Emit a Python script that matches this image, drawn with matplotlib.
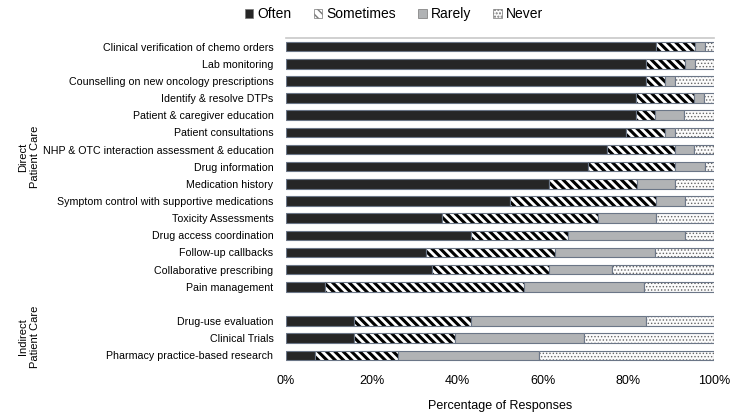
import matplotlib
matplotlib.use("Agg")
import matplotlib.pyplot as plt
import numpy as np

plt.rcParams['font.family'] = ['Liberation Sans', 'DejaVu Sans']

direct_labels = [
    "Clinical verification of chemo orders",
    "Lab monitoring",
    "Counselling on new oncology prescriptions",
    "Identify & resolve DTPs",
    "Patient & caregiver education",
    "Patient consultations",
    "NHP & OTC interaction assessment & education",
    "Drug information",
    "Medication history",
    "Symptom control with supportive medications",
    "Toxicity Assessments",
    "Drug access coordination",
    "Follow-up callbacks",
    "Collaborative prescribing",
    "Pain management",
]
indirect_labels = [
    "Drug-use evaluation",
    "Clinical Trials",
    "Pharmacy practice-based research",
]

often = [86.4, 84.1, 84.1, 81.8, 81.8, 79.5, 75.0, 70.5, 61.4, 52.3, 36.4, 43.2, 32.6, 34.1, 9.1,
         15.9, 15.9, 6.8]
sometimes = [9.1, 9.1, 4.5, 13.6, 4.5, 9.1, 15.9, 20.5, 20.5, 34.1, 36.4, 22.7, 30.2, 27.3, 46.6,
             27.3, 23.5, 19.3]
rarely = [2.3, 2.3, 2.3, 2.3, 6.8, 2.3, 4.5, 6.8, 9.1, 6.8, 13.6, 27.3, 23.3, 14.8, 28.0,
          40.9, 30.3, 33.0]
never = [2.3, 4.5, 9.1, 2.3, 6.8, 9.1, 4.5, 2.3, 9.0, 6.8, 13.6, 6.8, 14.0, 23.8, 16.3,
         15.9, 30.3, 40.9]

categories = ["Often", "Sometimes", "Rarely", "Never"]
group_names = ["Direct\nPatient Care", "Indirect\nPatient Care"]

labels = direct_labels + indirect_labels
ypos = list(range(len(direct_labels))) + [len(direct_labels) + 1 + i for i in range(len(indirect_labels))]

fig = plt.figure(figsize=(7.36, 4.17), dpi=100)
ax = fig.add_axes([286/736, 1 - 364/417, 428/736, (364 - 38)/417])

series = [often, sometimes, rarely, never]
styles = [
    dict(color="#262626", hatch=None, hc=None, hlw=1.0),
    dict(color="white", hatch="\\\\\\\\", hc="black", hlw=2.2),
    dict(color="#b1b3b5", hatch=None, hc=None, hlw=1.0),
    dict(color="#fbfbfb", hatch=".....", hc="#666666", hlw=0.6),
]
edge = "#6b7687"
left = np.zeros(len(labels))
handles = []
for name, vals, st in zip(categories, series, styles):
    vals = np.array(vals)
    if st["hatch"] is not None:
        with plt.rc_context({'hatch.linewidth': st["hlw"]}):
            b = ax.barh(ypos, vals, left=left, height=0.56, color=st["color"], hatch=st["hatch"],
                        edgecolor=st["hc"], linewidth=0, label=name)
        ax.barh(ypos, vals, left=left, height=0.56, color="none", edgecolor=edge, linewidth=0.8)
    else:
        b = ax.barh(ypos, vals, left=left, height=0.56, color=st["color"],
                    edgecolor=edge, linewidth=0.8, label=name)
    handles.append(b)
    left += vals

ax.set_xlim(0, 100)
ax.set_ylim(max(ypos) + 0.5, -0.5)
ax.set_yticks(ypos)
ax.set_yticklabels(labels, fontsize=7.7)
ax.set_xticks([0, 20, 40, 60, 80, 100])
ax.set_xticklabels(["0%", "20%", "40%", "60%", "80%", "100%"], fontsize=9)
ax.tick_params(axis='x', length=0, pad=8)
ax.tick_params(axis='y', length=0, pad=9)
for s in ["left", "right", "bottom"]:
    ax.spines[s].set_visible(False)
ax.spines["top"].set_color("#c8c8c8")
ax.spines["top"].set_linewidth(1.2)
ax.set_xlabel("Percentage of Responses", fontsize=9, labelpad=9)

# group labels
fig.text(29/736, 1 - 157/417, group_names[0], rotation=90, ha="center", va="center",
         fontsize=8, linespacing=1.2)
fig.text(29/736, 1 - 337/417, group_names[1], rotation=90, ha="center", va="center",
         fontsize=8, linespacing=1.2)

leg = fig.legend(handles, categories, loc="center", bbox_to_anchor=(394/736, 1 - 14/417), ncol=4,
                 frameon=False, fontsize=10, handlelength=0.6, handleheight=0.6,
                 handletextpad=0.3, columnspacing=1.6)
for h in leg.legend_handles:
    h.set_edgecolor("#777777")
    h.set_linewidth(0.5)

fig.savefig("out.png", dpi=100)
